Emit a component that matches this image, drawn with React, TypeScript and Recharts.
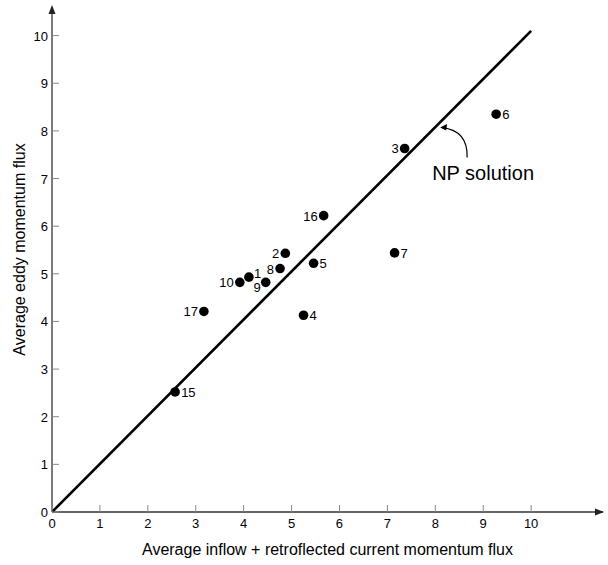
import { ScatterChart, Scatter, XAxis, YAxis, ReferenceDot } from 'recharts';

// station numbers and their fluxes
const stations = ['1', '2', '3', '4', '5', '6', '7', '8', '9', '10', '15', '16', '17'];
const inflowFlux = [4.11, 4.87, 7.36, 5.25, 5.46, 9.27, 7.15, 4.76, 4.46, 3.92, 2.57, 5.67, 3.17];
const eddyFlux = [4.93, 5.43, 7.63, 4.13, 5.22, 8.35, 5.44, 5.11, 4.82, 4.82, 2.52, 6.22, 4.21];

// NP solution line end points
const npX = [0, 10];
const npY = [0, 10.1];

const xTicks = [0, 1, 2, 3, 4, 5, 6, 7, 8, 9, 10];
const yTicks = [0, 1, 2, 3, 4, 5, 6, 7, 8, 9, 10];

const FONT = '"Liberation Sans", Arial, sans-serif';

// where each station number sits next to its dot
const labelSide: Record<string, string> = {
  '1': 'rt', '2': 'l', '3': 'l', '4': 'r', '5': 'r', '6': 'r', '7': 'r',
  '8': 'l', '9': 'lb', '10': 'l', '15': 'r', '16': 'l', '17': 'l',
};

const points = stations.map((s, i) => ({ x: inflowFlux[i], y: eddyFlux[i], name: s }));
const npLine = npX.map((x, i) => ({ x, y: npY[i] }));

const Dot = (props: any) => {
  const { cx, cy, payload } = props;
  const side = labelSide[payload.name];
  let tx = cx + 6, ty = cy + 5, anchor = 'start';
  if (side === 'l') { tx = cx - 6; anchor = 'end'; }
  if (side === 'rt') { tx = cx + 5; ty = cy + 1; }
  if (side === 'lb') { tx = cx - 5; ty = cy + 10; anchor = 'end'; }
  return (
    <g>
      <circle cx={cx} cy={cy} r={4.8} fill="#000" />
      <text x={tx} y={ty} textAnchor={anchor} fontSize={13} fontFamily={FONT} fill="#000">{payload.name}</text>
    </g>
  );
};

const XTick = ({ x, y, payload }: any) => (
  <g>
    <line x1={x} y1={y} x2={x} y2={y - 7} stroke="#888" strokeWidth={1} />
    <text x={x} y={y + 16} textAnchor="middle" fontSize={13} fontFamily={FONT} fill="#000">{payload.value}</text>
  </g>
);

const YTick = ({ x, y, payload }: any) => (
  <g>
    <line x1={x} y1={y} x2={x + 7} y2={y} stroke="#888" strokeWidth={1} />
    <text x={x - 4} y={y + 5} textAnchor="end" fontSize={13} fontFamily={FONT} fill="#000">{payload.value}</text>
  </g>
);

const NpNote = ({ cx, cy }: any) => (
  <g>
    <path d={`M${cx + 28},${cy + 31} Q${cx + 29},${cy + 4} ${cx + 3},${cy + 1}`} fill="none" stroke="#000" strokeWidth={1.2} />
    <path d={`M${cx + 1},${cy + 1} L${cx + 8},${cy - 2.5} L${cx + 7},${cy + 4} Z`} fill="#000" />
    <text x={cx - 7} y={cy + 53} fontSize={20} fontFamily={FONT} fill="#000">NP solution</text>
  </g>
);

const XArrow = ({ cx, cy }: any) => (
  <path d={`M${cx + 1},${cy} L${cx - 8},${cy - 3.5} L${cx - 8},${cy + 3.5} Z`} fill="#222" />
);

const YArrow = ({ cx, cy }: any) => (
  <path d={`M${cx},${cy - 2} L${cx - 3.5},${cy + 7} L${cx + 3.5},${cy + 7} Z`} fill="#222" />
);

export default function App() {
  return (
    <div style={{ width: 608, height: 565, background: '#fff' }}>
      <style>{'body{margin:0}'}</style>
      <ScatterChart width={608} height={565} margin={{ top: 7, right: 5, bottom: 0, left: 0 }}>
        <XAxis
          type="number"
          dataKey="x"
          domain={[0, 11.5]}
          ticks={xTicks}
          height={53}
          tickSize={0}
          tickMargin={0}
          tickLine={false}
          axisLine={{ stroke: '#333', strokeWidth: 1.3 }}
          tick={<XTick />}
          allowDataOverflow
          label={{
            value: 'Average inflow + retroflected current momentum flux',
            position: 'insideBottom',
            offset: 10,
            fontSize: 16,
            fontFamily: FONT,
            fill: '#000',
          }}
        />
        <YAxis
          type="number"
          dataKey="y"
          domain={[0, 10.6]}
          ticks={yTicks}
          width={52}
          tickSize={0}
          tickMargin={0}
          tickLine={false}
          axisLine={{ stroke: '#333', strokeWidth: 1.3 }}
          tick={<YTick />}
          allowDataOverflow
          label={{
            content: ({ viewBox }: any) => {
              const cx = viewBox.x + 19;
              const cy = viewBox.y + viewBox.height / 2 - 10;
              return (
                <text x={cx} y={cy} transform={`rotate(-90 ${cx} ${cy})`} textAnchor="middle" dominantBaseline="central" fontSize={16} fontFamily={FONT} fill="#000">
                  Average eddy momentum flux
                </text>
              );
            },
          }}
        />
        <Scatter data={npLine} line={{ stroke: '#000', strokeWidth: 2.6 }} shape={() => <g />} isAnimationActive={false} />
        <Scatter data={points} shape={<Dot />} isAnimationActive={false} />
        <ReferenceDot x={8.08} y={8.09} ifOverflow="visible" shape={<NpNote />} />
        <ReferenceDot x={11.5} y={0} ifOverflow="visible" shape={<XArrow />} />
        <ReferenceDot x={0} y={10.6} ifOverflow="visible" shape={<YArrow />} />
      </ScatterChart>
    </div>
  );
}
